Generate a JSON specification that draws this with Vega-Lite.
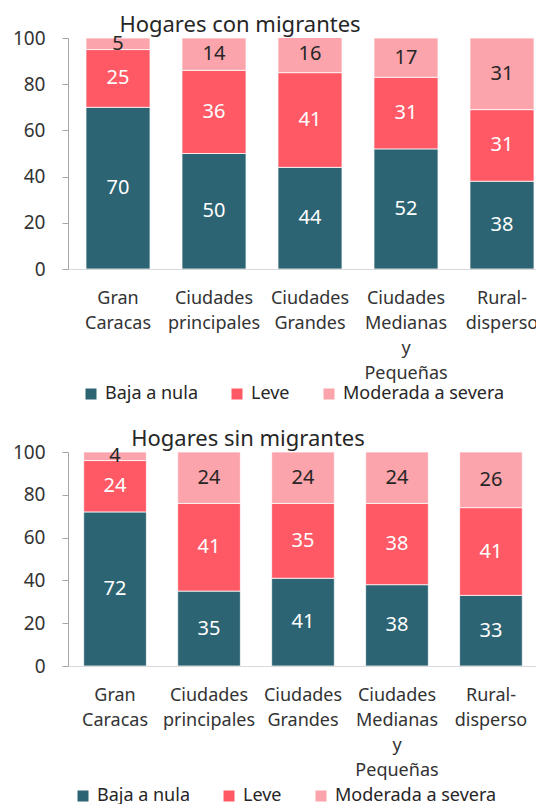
{
  "$schema": "https://vega.github.io/schema/vega-lite/v6.json",
  "padding": {"left": 12, "top": 14, "right": 0, "bottom": 0},
  "config": {
    "font": "Noto Sans",
    "view": {"stroke": null},
    "title": {"font": "Noto Sans", "fontSize": 22, "fontWeight": "normal", "color": "#262626"},
    "axis": {"labelFont": "Noto Sans", "labelColor": "#333333", "grid": false, "title": null},
    "legend": {"labelFont": "Noto Sans", "labelColor": "#262626", "labelLimit": 0}
  },
  "data": {"values": [
    {"panel": "con", "cat": "Gran Caracas", "serie": "Baja a nula", "orden": 1, "valor": 70},
    {"panel": "con", "cat": "Gran Caracas", "serie": "Leve", "orden": 2, "valor": 25},
    {"panel": "con", "cat": "Gran Caracas", "serie": "Moderada a severa", "orden": 3, "valor": 5},
    {"panel": "con", "cat": "Ciudades principales", "serie": "Baja a nula", "orden": 1, "valor": 50},
    {"panel": "con", "cat": "Ciudades principales", "serie": "Leve", "orden": 2, "valor": 36},
    {"panel": "con", "cat": "Ciudades principales", "serie": "Moderada a severa", "orden": 3, "valor": 14},
    {"panel": "con", "cat": "Ciudades Grandes", "serie": "Baja a nula", "orden": 1, "valor": 44},
    {"panel": "con", "cat": "Ciudades Grandes", "serie": "Leve", "orden": 2, "valor": 41},
    {"panel": "con", "cat": "Ciudades Grandes", "serie": "Moderada a severa", "orden": 3, "valor": 16},
    {"panel": "con", "cat": "Ciudades Medianas y Pequeñas", "serie": "Baja a nula", "orden": 1, "valor": 52},
    {"panel": "con", "cat": "Ciudades Medianas y Pequeñas", "serie": "Leve", "orden": 2, "valor": 31},
    {"panel": "con", "cat": "Ciudades Medianas y Pequeñas", "serie": "Moderada a severa", "orden": 3, "valor": 17},
    {"panel": "con", "cat": "Rural-disperso", "serie": "Baja a nula", "orden": 1, "valor": 38},
    {"panel": "con", "cat": "Rural-disperso", "serie": "Leve", "orden": 2, "valor": 31},
    {"panel": "con", "cat": "Rural-disperso", "serie": "Moderada a severa", "orden": 3, "valor": 31},
    {"panel": "sin", "cat": "Gran Caracas", "serie": "Baja a nula", "orden": 1, "valor": 72},
    {"panel": "sin", "cat": "Gran Caracas", "serie": "Leve", "orden": 2, "valor": 24},
    {"panel": "sin", "cat": "Gran Caracas", "serie": "Moderada a severa", "orden": 3, "valor": 4},
    {"panel": "sin", "cat": "Ciudades principales", "serie": "Baja a nula", "orden": 1, "valor": 35},
    {"panel": "sin", "cat": "Ciudades principales", "serie": "Leve", "orden": 2, "valor": 41},
    {"panel": "sin", "cat": "Ciudades principales", "serie": "Moderada a severa", "orden": 3, "valor": 24},
    {"panel": "sin", "cat": "Ciudades Grandes", "serie": "Baja a nula", "orden": 1, "valor": 41},
    {"panel": "sin", "cat": "Ciudades Grandes", "serie": "Leve", "orden": 2, "valor": 35},
    {"panel": "sin", "cat": "Ciudades Grandes", "serie": "Moderada a severa", "orden": 3, "valor": 24},
    {"panel": "sin", "cat": "Ciudades Medianas y Pequeñas", "serie": "Baja a nula", "orden": 1, "valor": 38},
    {"panel": "sin", "cat": "Ciudades Medianas y Pequeñas", "serie": "Leve", "orden": 2, "valor": 38},
    {"panel": "sin", "cat": "Ciudades Medianas y Pequeñas", "serie": "Moderada a severa", "orden": 3, "valor": 24},
    {"panel": "sin", "cat": "Rural-disperso", "serie": "Baja a nula", "orden": 1, "valor": 33},
    {"panel": "sin", "cat": "Rural-disperso", "serie": "Leve", "orden": 2, "valor": 41},
    {"panel": "sin", "cat": "Rural-disperso", "serie": "Moderada a severa", "orden": 3, "valor": 26}
  ]},
  "spacing": 25,
  "resolve": {"scale": {"color": "independent"}, "legend": {"color": "independent"}},
  "vconcat": [
    {
      "width": 484,
      "height": 231,
      "title": {"text": "Hogares con migrantes", "anchor": "middle", "dx": -70, "offset": -8},
      "transform": [
        {"filter": "datum.panel == 'con'"},
        {"stack": "valor", "groupby": ["cat"], "sort": [{"field": "orden"}], "as": ["y0", "y1"]},
        {"calculate": "(datum.y0 + datum.y1) / 2", "as": "mid"}
      ],
      "encoding": {
        "x": {
          "field": "cat", "type": "nominal",
          "sort": ["Gran Caracas", "Ciudades principales", "Ciudades Grandes", "Ciudades Medianas y Pequeñas", "Rural-disperso"],
          "scale": {"paddingInner": 0.333, "paddingOuter": 0.1875},
          "axis": {"labelAngle": 0, "labelExpr": "split(replace(datum.value, '-', '- '), ' ')", "labelFontSize": 18, "labelLineHeight": 25, "labelPadding": 20, "labelBaseline": "top", "ticks": false, "domainColor": "#D9D9D9", "labelOverlap": false, "labelLimit": 0, "labelBound": false}
        }
      },
      "layer": [
        {
          "mark": {"type": "bar", "clip": true, "stroke": "white", "strokeWidth": 0.75},
          "encoding": {
            "y": {"field": "y1", "type": "quantitative", "scale": {"domain": [0, 100]}, "axis": {"values": [0, 20, 40, 60, 80, 100], "labelFontSize": 19, "tickSize": 6, "labelPadding": 17, "domainColor": "#A6A6A6", "tickColor": "#A6A6A6"}},
            "y2": {"field": "y0"},
            "color": {
              "field": "serie", "type": "nominal",
              "scale": {"domain": ["Baja a nula", "Leve", "Moderada a severa"], "range": ["#2C6473", "#FF5965", "#FCA4AB"]},
              "legend": {"title": null, "orient": "none", "direction": "horizontal", "legendX": 14, "legendY": 347, "symbolType": "square", "symbolSize": 121, "symbolStrokeWidth": 0, "labelFontSize": 18, "labelOffset": 5, "columnPadding": 30, "labelLimit": 0}
            }
          }
        },
        {
          "mark": {"type": "text", "fontSize": 20, "baseline": "middle"},
          "encoding": {
            "y": {"field": "mid", "type": "quantitative"},
            "text": {"field": "valor", "type": "quantitative"},
            "color": {"condition": {"test": "datum.serie == 'Moderada a severa'", "value": "#262626"}, "value": "white"}
          }
        }
      ]
    },
    {
      "width": 470,
      "height": 214,
      "title": {"text": "Hogares sin migrantes", "anchor": "middle", "dx": -55, "offset": -8},
      "transform": [
        {"filter": "datum.panel == 'sin'"},
        {"stack": "valor", "groupby": ["cat"], "sort": [{"field": "orden"}], "as": ["y0", "y1"]},
        {"calculate": "(datum.y0 + datum.y1) / 2", "as": "mid"}
      ],
      "encoding": {
        "x": {
          "field": "cat", "type": "nominal",
          "sort": ["Gran Caracas", "Ciudades principales", "Ciudades Grandes", "Ciudades Medianas y Pequeñas", "Rural-disperso"],
          "scale": {"paddingInner": 0.333, "paddingOuter": 0.167},
          "axis": {"labelAngle": 0, "labelExpr": "split(replace(datum.value, '-', '- '), ' ')", "labelFontSize": 18, "labelLineHeight": 25, "labelPadding": 20, "labelBaseline": "top", "ticks": false, "domainColor": "#D9D9D9", "labelOverlap": false, "labelLimit": 0, "labelBound": false}
        }
      },
      "layer": [
        {
          "mark": {"type": "bar", "clip": true, "stroke": "white", "strokeWidth": 0.75},
          "encoding": {
            "y": {"field": "y1", "type": "quantitative", "scale": {"domain": [0, 100]}, "axis": {"values": [0, 20, 40, 60, 80, 100], "labelFontSize": 19, "tickSize": 6, "labelPadding": 17, "domainColor": "#A6A6A6", "tickColor": "#A6A6A6"}},
            "y2": {"field": "y0"},
            "color": {
              "field": "serie", "type": "nominal",
              "scale": {"domain": ["Baja a nula", "Leve", "Moderada a severa"], "range": ["#2C6473", "#FF5965", "#FCA4AB"]},
              "legend": {"title": null, "orient": "none", "direction": "horizontal", "legendX": 6, "legendY": 335, "symbolType": "square", "symbolSize": 121, "symbolStrokeWidth": 0, "labelFontSize": 18, "labelOffset": 5, "columnPadding": 30, "labelLimit": 0}
            }
          }
        },
        {
          "mark": {"type": "text", "fontSize": 20, "baseline": "middle"},
          "encoding": {
            "y": {"field": "mid", "type": "quantitative"},
            "text": {"field": "valor", "type": "quantitative"},
            "color": {"condition": {"test": "datum.serie == 'Moderada a severa'", "value": "#262626"}, "value": "white"}
          }
        }
      ]
    }
  ]
}
